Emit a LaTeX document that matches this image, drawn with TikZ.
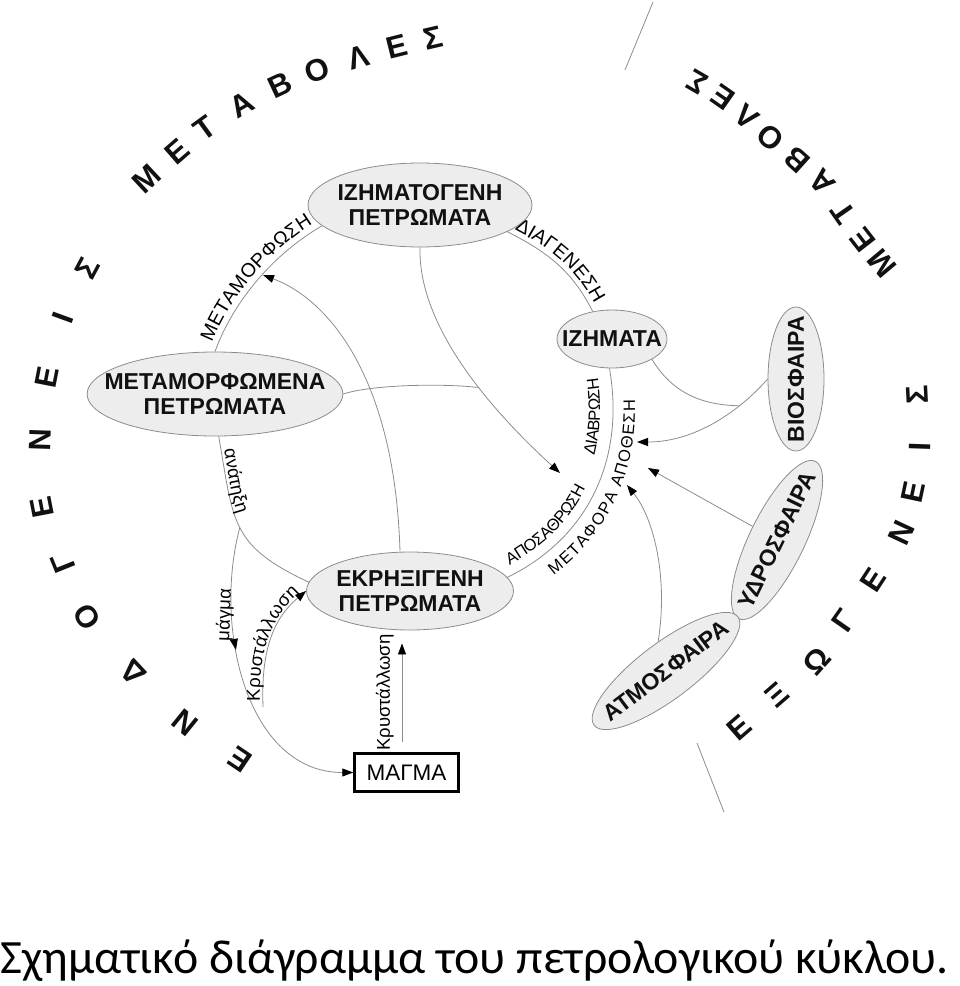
\documentclass[tikz,border=0pt]{standalone}
\usepackage{fontspec}
\setmainfont{Liberation Sans}
\newfontfamily\capfamily{Carlito}
\usepackage{xcolor}
\usetikzlibrary{arrows.meta, positioning, calc, shapes.geometric, decorations.text, decorations.markings}
\definecolor{rockFill}{HTML}{EDEDED}
\definecolor{rockLine}{HTML}{8C8C8C}
\definecolor{flowGray}{HTML}{8C8C8C}
\definecolor{inkDark}{HTML}{111111}
\newcommand\rockfont{\fontsize{23}{25}\selectfont\bfseries}
\newcommand\ringfont{\fontsize{31}{33}\selectfont\bfseries}
\newcommand\arcfont{\fontsize{19.5}{21}\selectfont}
\newcommand\minorfont{\fontsize{16.5}{18}\selectfont}
\newcommand\notefont{\fontsize{18.5}{20}\selectfont}
\newcommand\cyclecaption{\capfamily\fontsize{47.8}{50}\selectfont}

\begin{document}
\begin{tikzpicture}[x=1pt, y=-1pt,
  rock/.style={ellipse, draw=rockLine, fill=rockFill, line width=0.8pt, inner xsep=-20pt, inner ysep=0pt, align=center, font=\rockfont, text=inkDark},
  magmabox/.style={draw=black, line width=2.5pt, minimum width=104pt, minimum height=38pt, inner sep=0pt, font=\fontsize{22.5}{25}\selectfont},
  ring/.style={font=\ringfont, inner sep=0pt, text=inkDark},
  flow/.style={draw=flowGray, line width=0.8pt},
  note/.style={font=\notefont, inner sep=1pt},
  divider/.style={draw=flowGray, line width=0.8pt},
  >={Triangle[length=11pt, width=8pt, color=black]}
]
\useasboundingbox (0,0) rectangle (960,986);

% rock types and spheres
\node[rock, minimum width=224pt, minimum height=84pt] (sedrock) at (420,205) {ΙΖΗΜΑΤΟΓΕΝΗ\\ΠΕΤΡΩΜΑΤΑ};
\node[rock, minimum width=255pt, minimum height=84pt] (metarock) at (215,394) {ΜΕΤΑΜΟΡΦΩΜΕΝΑ\\ΠΕΤΡΩΜΑΤΑ};
\node[rock, minimum width=110pt, minimum height=58pt] (sediment) at (612,339) {ΙΖΗΜΑΤΑ};
\node[rock, minimum width=207pt, minimum height=78pt] (ignrock) at (410,591) {ΕΚΡΗΞΙΓΕΝΗ\\ΠΕΤΡΩΜΑΤΑ};
\node[magmabox] (magma) at (406.5,772.5) {ΜΑΓΜΑ};
\node[rock, rotate=90, minimum width=144pt, minimum height=56pt] (bio) at (796,379) {ΒΙΟΣΦΑΙΡΑ};
\node[rock, rotate=64, minimum width=175pt, minimum height=55pt] (hydro) at (777,540) {ΥΔΡΟΣΦΑΙΡΑ};
\node[rock, rotate=37, minimum width=180pt, minimum height=56pt] (atmo) at (666,671) {ΑΤΜΟΣΦΑΙΡΑ};

\coordinate (metaArrow) at (263,275);
\coordinate (depositTip) at (560,473);
\coordinate (bioTip) at (637,442);
\coordinate (hydroTip) at (648,468);
\coordinate (atmoTip) at (627,485);
\coordinate (crystStart) at (263,707);

% the cycle
\draw[flow, postaction={decorate, decoration={text along path, text={|\arcfont|ΜΕΤΑΜΟΡΦΩΣΗ}, text align=center, raise=6pt}}]
  (metarock.north) to[out=70, in=210, looseness=0.85] (sedrock.192);
\draw[flow, postaction={decorate, decoration={text along path, text={|\arcfont|ΔΙΑΓΕΝΕΣΗ}, text align=center, raise=5pt}}]
  (sedrock.-17) to[out=-27, in=117] (sediment.125);
\draw[flow,
  postaction={decorate, decoration={text along path, text={|\minorfont|ΑΠΟΣΑΘΡΩΣΗ}, text align={left, left indent=8pt}, raise=10pt}},
  postaction={decorate, decoration={text along path, text={|\minorfont|ΔΙΑΒΡΩΣΗ}, text align={right, right indent=8pt}, raise=13pt}},
  postaction={decorate, decoration={text along path, text={|\minorfont|ΜΕΤΑΦΟΡΑ}, text align={left, left indent=38pt}, raise=-22pt}},
  postaction={decorate, decoration={text along path, text={|\minorfont|ΑΠΟΘΕΣΗ}, text align={right, right indent=32pt}, raise=-22pt}}]
  (ignrock.8) to[out=26, in=-80] (sediment.265);
\draw[flow, postaction={decorate, decoration={text along path, text={|\notefont|ανάτηξη}, text align={left, left indent=14pt}, raise=3pt}}]
  (metarock.-85) to[out=-80, in=155, looseness=1.3] coordinate[pos=0.5] (junc) (ignrock.175);

% magma paths
\draw[flow, ->, postaction={decorate, decoration={markings, mark=at position 0.4 with {\arrow{>}}}}]
  (junc) to[out=255, in=180] (magma.west);
\node[note, rotate=88] (magmaLabel) at (225,615) {μάγμα};
\draw[flow, ->, postaction={decorate, decoration={text along path, text={|\notefont|Κρυστάλλωση}, text align=center, raise=3pt}}]
  (crystStart) to[out=92, in=220] (ignrock.west);
\draw[flow, ->] ([xshift=-4.5pt, yshift=10.5pt]magma.north) -- ([xshift=-8pt, yshift=-13pt]ignrock.south)
  node[note, midway, sloped, above=7pt] {Κρυστάλλωση};

% cross links
\draw[flow, ->] ([xshift=-10pt]ignrock.north) .. controls (395,380) and (330,300) .. (metaArrow);
\draw[flow, ->] (sedrock.south) .. controls (418,320) and (480,400) .. (depositTip) coordinate[pos=0.62] (merge);
\draw[flow] (metarock.east) .. controls (370,385) and (440,383) .. (merge);

% exogenic inputs
\draw[flow, ->] (bio.north) .. controls (745,405) and (700,442) .. (bioTip) coordinate[pos=0.32] (bioJoin);
\draw[flow] (sediment.-27) .. controls (672,392) and (700,405) .. (bioJoin);
\draw[flow, ->] (hydro) -- (hydroTip);
\draw[flow, ->] (atmo.68) .. controls (668,580) and (655,520) .. (atmoTip);

\draw[divider] (653,2) -- (625,70);
\draw[divider] (697,743) -- (724,812);

% ring lettering
\foreach \ch/\px/\py/\rot in {Ε/240/760/146, Ν/185/723/141, Δ/133/673/133, Ο/87/617/122, Γ/63/563/112,
  Ε/42/507/101, Ν/40/440/88, Ε/47/377/79, Ι/63/318/70, Σ/87/268/62,
  Μ/147/179/43, Ε/177/152/41, Τ/205/128/36, Α/242/105/30, Β/280/85/25, Ο/317/70/20, Λ/358/57/16, Ε/397/47/14, Σ/433/38/13}
  \node[ring, rotate=\rot] at (\px,\py) {\ch};
\foreach \ch/\px/\py/\rot in {Ε/739/728/41, Ξ/777/695/41, Ω/817/661/48, Γ/844/621/55, Ε/873/580/57,
  Ν/902/533/65, Ε/913/492/78, Ι/920/447/88, Σ/917/395/93,
  Μ/882/263/130, Ε/863/240/128, Τ/843/213/125, Α/822/182/131, Β/797/160/138, Ο/770/138/139, Λ/747/117/140, Ε/723/97/145, Σ/697/82/150}
  \node[ring, rotate=\rot] at (\px,\py) {\ch};

\node[anchor=base west, inner sep=0pt, font=\cyclecaption] (caption) at (0,973) {Σχηματικό διάγραμμα του πετρολογικού κύκλου.};
\end{tikzpicture}
\end{document}
